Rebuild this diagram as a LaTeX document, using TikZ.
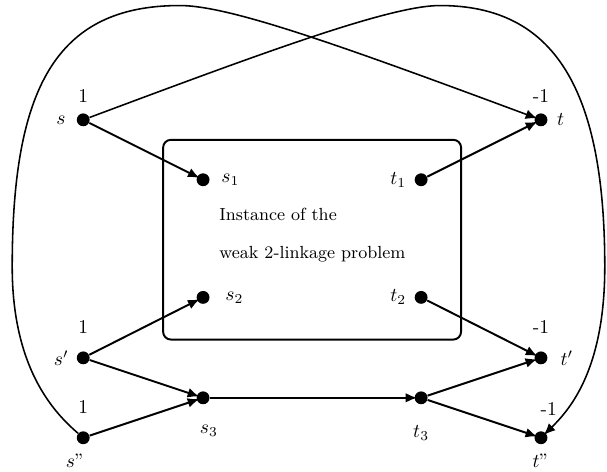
\documentclass[tikz,border=0pt]{standalone}
\usepackage{amsmath, amssymb}
\usepackage{tikz}
\usetikzlibrary{arrows.meta, positioning, calc}
\tikzset{
	vertex/.style={circle, fill=black, inner sep=0pt, minimum size=6.6pt},
	arc/.style={-{Latex[length=6pt, width=5pt]}, line width=1pt, shorten >=-1.5pt},
	loopcurve/.style={-{Latex[length=6pt, width=5pt]}, line width=0.8pt, shorten >=-1.5pt},
}

\begin{document}
\begin{tikzpicture}
	\useasboundingbox (0,0) rectangle (10.94,8.50);
	\draw[line width=1pt, rounded corners=4pt] (2.94,2.38) rectangle (8.31,5.98);
	\node[anchor=west, font=\small] (txtA) at (3.83,4.63) {Instance of the};
	\node[anchor=west, font=\small] (txtB) at (3.83,3.91) {weak 2-linkage problem};

	\node[vertex, label={[label distance=2pt]above:1}, label={[label distance=2pt]left:$s$}] (s) at (1.50,6.34) {};
	\node[vertex, label={[label distance=2pt]above:-1}, label={[label distance=1.3pt]right:$t$}] (t) at (9.75,6.34) {};
	\node[vertex, label={[label distance=2.4pt]right:$s_1$}] (s1) at (3.66,5.26) {};
	\node[vertex, label={[label distance=0.7pt]left:$t_1$}] (t1) at (7.59,5.26) {};
	\node[vertex, label={[label distance=4.4pt]right:$s_2$}] (s2) at (3.66,3.14) {};
	\node[vertex, label={[label distance=0.7pt]left:$t_2$}] (t2) at (7.59,3.14) {};
	\node[vertex, label={[label distance=5.5pt]above:1}, label={[label distance=0.5pt]left:$s'$}] (sp) at (1.50,2.05) {};
	\node[vertex, label={[label distance=5.5pt]above:-1}, label={[label distance=3pt]right:$t'$}] (tp) at (9.75,2.05) {};
	\node[vertex, label={[label distance=7pt, xshift=3pt]below:$s_3$}] (s3) at (3.66,1.33) {};
	\node[vertex, label={[label distance=7pt]below:$t_3$}] (t3) at (7.59,1.33) {};
	\node[vertex, label={[label distance=5.5pt]above:1}, label={[label distance=1.5pt, xshift=-4pt]below:$s"$}] (spp) at (1.50,0.61) {};
	\node[vertex, label={[label distance=4.5pt, xshift=4pt]above:-1}, label={[label distance=1.2pt]below:$t"$}] (tpp) at (9.75,0.61) {};

	\draw[arc] (s) -- (s1);
	\draw[arc] (t1) -- (t);
	\draw[arc] (sp) -- (s2);
	\draw[arc] (t2) -- (tp);
	\draw[arc] (sp) -- (s3);
	\draw[arc] (spp) -- (s3);
	\draw[arc] (s3) -- (t3);
	\draw[arc] (t3) -- (tp);
	\draw[arc] (t3) -- (tpp);
	\draw[loopcurve] (spp) .. controls (0.99,1.05) and (0.22,1.84) .. (0.22,3.69) .. controls (0.22,6.88) and (0.99,8.40) .. (3.24,8.40) .. controls (4.14,8.40) and (6.14,7.68) .. (t);
	\draw[loopcurve] (s) .. controls (4.74,7.55) and (7.03,8.40) .. (7.93,8.40) .. controls (10.00,8.40) and (10.90,6.88) .. (10.90,3.69) .. controls (10.90,1.84) and (10.27,1.12) .. (tpp);
\end{tikzpicture}
\end{document}
